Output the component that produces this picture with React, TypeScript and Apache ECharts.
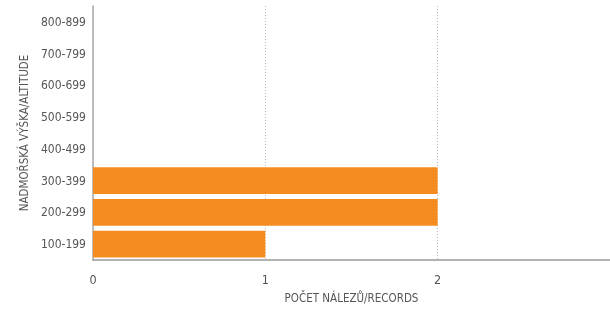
import React, { useEffect, useRef } from "react";
import * as echarts from "echarts";

const categories = ["100-199", "200-299", "300-399", "400-499", "500-599", "600-699", "700-799", "800-899"];
const records = [1, 2, 2, 0, 0, 0, 0, 0];
const xTicks = [0, 1, 2, 3];

const FONT = "'DejaVu Sans Condensed', 'Liberation Sans Narrow', sans-serif";

export default function App() {
  const ref = useRef<HTMLDivElement>(null);
  useEffect(() => {
    if (!ref.current) return;
    const chart = echarts.init(ref.current, null, { renderer: "svg" });
    chart.setOption({
      animation: false,
      grid: { left: 93, width: 521, top: 6, bottom: 47, containLabel: false },
      xAxis: {
        type: "value",
        min: xTicks[0],
        max: xTicks[xTicks.length - 1],
        interval: 1,
        name: "POČET NÁLEZŮ/RECORDS",
        nameLocation: "middle",
        nameGap: 32,
        nameTextStyle: { color: "#555", fontSize: 11.5, fontFamily: FONT },
        axisLine: { show: true, lineStyle: { color: "#999", width: 1.5 } },
        axisTick: { show: false },
        axisLabel: {
          color: "#555",
          fontSize: 12.5,
          fontFamily: FONT,
          margin: 13,
          showMaxLabel: false,
        },
        splitLine: { show: true, lineStyle: { color: "#bbb", type: [1, 2], width: 1 } },
      },
      yAxis: {
        type: "category",
        data: categories,
        name: "NADMOŘSKÁ VÝŠKA/ALTITUDE",
        nameLocation: "middle",
        nameGap: 52,
        nameTextStyle: { color: "#555", fontSize: 11.5, fontFamily: FONT },
        axisLine: { show: true, lineStyle: { color: "#aaa", width: 1.5 } },
        axisTick: { show: false },
        axisLabel: { color: "#555", fontSize: 12, fontFamily: FONT, margin: 7 },
        splitLine: { show: false },
      },
      series: [
        {
          type: "bar",
          data: records,
          barCategoryGap: "16%",
          itemStyle: { color: "#F58C1F" },
        },
      ],
    });
    return () => chart.dispose();
  }, []);
  return <div ref={ref} style={{ position: "fixed", left: 0, top: 0, width: 610, height: 309, overflow: "hidden" }} />;
}
